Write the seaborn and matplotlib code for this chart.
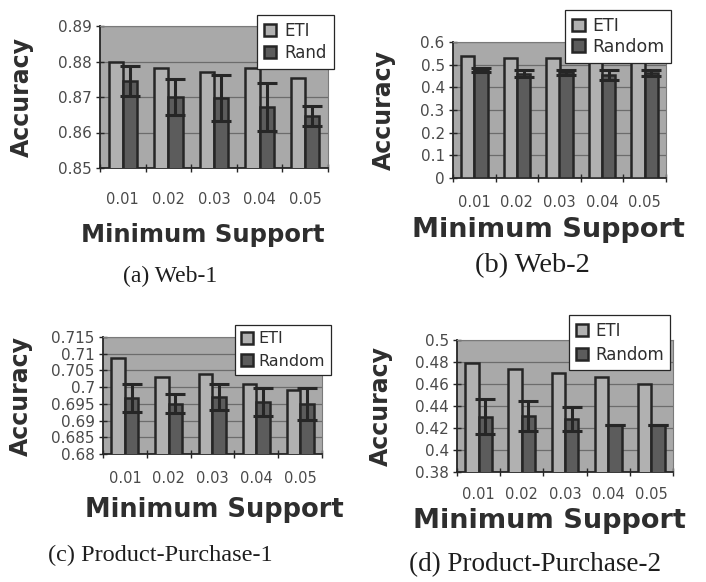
import matplotlib
matplotlib.use("Agg")
import matplotlib.pyplot as plt
import pandas as pd
import seaborn as sns

# ---- data -------------------------------------------------------------
supports = ["0.01", "0.02", "0.03", "0.04", "0.05"]

web1_eti = [0.8800, 0.8781, 0.8771, 0.8781, 0.8753]
web1_rand = [0.8744, 0.8700, 0.8697, 0.8672, 0.8646]
web1_err = [0.0042, 0.0050, 0.0064, 0.0067, 0.0029]
web1_ticks = ["0.85", "0.86", "0.87", "0.88", "0.89"]
web1_names = ["ETI", "Rand"]

web2_eti = [0.537, 0.531, 0.530, 0.528, 0.520]
web2_rand = [0.477, 0.461, 0.466, 0.455, 0.462]
web2_err = [0.009, 0.017, 0.0125, 0.023, 0.013]
web2_ticks = ["0", "0.1", "0.2", "0.3", "0.4", "0.5", "0.6"]
web2_names = ["ETI", "Random"]

pp1_eti = [0.7088, 0.7029, 0.7038, 0.7008, 0.6991]
pp1_rand = [0.6967, 0.6951, 0.6970, 0.6956, 0.6950]
pp1_err = [0.0042, 0.0027, 0.0038, 0.0042, 0.0048]
pp1_ticks = ["0.68", "0.685", "0.69", "0.695", "0.7", "0.705", "0.71", "0.715"]
pp1_names = ["ETI", "Random"]

pp2_eti = [0.4787, 0.4739, 0.4696, 0.4666, 0.4599]
pp2_rand = [0.4303, 0.4307, 0.4283, 0.4231, 0.4225]
pp2_err = [0.0160, 0.0137, 0.0110, 0.0, 0.0]
pp2_ticks = ["0.38", "0.4", "0.42", "0.44", "0.46", "0.48", "0.5"]
pp2_names = ["ETI", "Random"]

captions = ["(a) Web-1", "(b) Web-2", "(c) Product-Purchase-1", "(d) Product-Purchase-2"]

# ---- style ------------------------------------------------------------
sns.set_style("white")
plt.rcParams["font.family"] = ["DejaVu Sans"]

PLOT_BG = "#a9a9a9"
ETI_FACE = "#b1b1b1"
RAND_FACE = "#5c5c5c"
EDGE = "#262626"
GRID = "#6c6c6c"
TEXT = "#2e2e2e"
TICK_TEXT = "#4a4a4a"

W, H = 706, 582
fig = plt.figure(figsize=(W / 100, H / 100), dpi=100)
fig.patch.set_facecolor("white")


def px_axes(left, top, right, bottom):
    return [left / W, 1 - bottom / H, (right - left) / W, (bottom - top) / H]


panels = [
    dict(eti=web1_eti, rand=web1_rand, err=web1_err, ticks=web1_ticks, names=web1_names,
         box=px_axes(100, 26, 328, 168), ylab=(-0.29, 0.5), xlab=(0.45, -0.39),
         xfs=17.5, xpad=17, leg=(0.689, 1.077), legfs=12, lspace=0.25, tpad=0.5),
    dict(eti=web2_eti, rand=web2_rand, err=web2_err, ticks=web2_ticks, names=web2_names,
         box=px_axes(453, 42, 666, 178), ylab=(-0.27, 0.5), xlab=(0.446, -0.29),
         xfs=19.5, xpad=12, leg=(0.526, 1.235), legfs=12.5, lspace=0.15, tpad=0.4),
    dict(eti=pp1_eti, rand=pp1_rand, err=pp1_err, ticks=pp1_ticks, names=pp1_names,
         box=px_axes(103, 337, 322, 454), ylab=(-0.32, 0.5), xlab=(0.507, -0.37),
         xfs=18.5, xpad=12, leg=(0.603, 1.103), legfs=11.5, lspace=0.45, tpad=0.3),
    dict(eti=pp2_eti, rand=pp2_rand, err=pp2_err, ticks=pp2_ticks, names=pp2_names,
         box=px_axes(457, 340, 673, 472), ylab=(-0.296, 0.5), xlab=(0.43, -0.275),
         xfs=19.5, xpad=11, leg=(0.519, 1.189), legfs=12, lspace=0.35, tpad=0.4),
]

for p in panels:
    ax = fig.add_axes(p["box"])
    ax.set_facecolor(PLOT_BG)

    df = pd.DataFrame({
        "Minimum Support": supports * 2,
        "Accuracy": p["eti"] + p["rand"],
        "Method": [p["names"][0]] * len(supports) + [p["names"][1]] * len(supports),
    })
    sns.barplot(data=df, x="Minimum Support", y="Accuracy", hue="Method",
                palette=[ETI_FACE, RAND_FACE], edgecolor=EDGE, linewidth=1.8,
                width=0.62, gap=0, errorbar=None, ax=ax, zorder=3)

    # error bars on the Random series, centred on its bars
    rand_bars = ax.containers[1]
    xs = [b.get_x() + b.get_width() / 2 for b in rand_bars]
    ax.errorbar(xs, p["rand"], yerr=p["err"], fmt="none", ecolor=EDGE,
                elinewidth=2.2, capsize=7, capthick=2.2, zorder=4)

    yt = [float(t) for t in p["ticks"]]
    ax.set_ylim(yt[0], yt[-1])
    ax.set_yticks(yt)
    ax.set_yticklabels(p["ticks"])
    ax.set_xlim(-0.5, len(supports) - 0.5)
    ax.set_xticks(range(len(supports)))
    ax.set_xticklabels(supports)
    ax.set_xticks([i - 0.5 for i in range(len(supports) + 1)], minor=True)

    ax.yaxis.grid(True, color=GRID, linewidth=0.9)
    ax.xaxis.grid(False)
    ax.set_axisbelow(True)

    ax.tick_params(axis="y", which="major", direction="inout", length=6, width=1,
                   color=EDGE, labelsize=11, labelcolor=TICK_TEXT, pad=3, left=True)
    ax.tick_params(axis="x", which="major", length=0, labelsize=10.5,
                   labelcolor=TICK_TEXT, pad=p["xpad"])
    ax.tick_params(axis="x", which="minor", direction="inout", length=6, width=1,
                   color=EDGE, bottom=True)

    for side in ["top", "right"]:
        ax.spines[side].set_color("#7a7a7a")
        ax.spines[side].set_linewidth(0.8)
    for side in ["left", "bottom"]:
        ax.spines[side].set_color(EDGE)
        ax.spines[side].set_linewidth(1.3)

    ax.set_ylabel("Accuracy", fontsize=17, fontweight="bold", color=TEXT)
    ax.yaxis.set_label_coords(*p["ylab"])
    ax.set_xlabel("Minimum Support", fontsize=p["xfs"], fontweight="bold", color=TEXT)
    ax.xaxis.set_label_coords(*p["xlab"])

    leg = ax.legend(loc="upper left", bbox_to_anchor=p["leg"], borderaxespad=0,
                    frameon=True, fancybox=False, framealpha=1, edgecolor=EDGE,
                    fontsize=p["legfs"], handlelength=0.75, handleheight=0.75,
                    handletextpad=p["tpad"], borderpad=0.4,
                    labelspacing=p["lspace"], title=None)
    leg.get_frame().set_linewidth(0.9)
    for t in leg.get_texts():
        t.set_color(TEXT)

# sub-figure captions
caption_pos = [(170, 276, 17), (532, 266, 20.5), (160, 555, 17.5), (535, 565, 19.5)]
for text, (cx, cy, fs) in zip(captions, caption_pos):
    fig.text(cx / W, 1 - cy / H, text, ha="center", va="center", fontsize=fs,
             family="Liberation Serif", color="#1e1e1e")

fig.savefig("out.png", dpi=100, facecolor="white")
